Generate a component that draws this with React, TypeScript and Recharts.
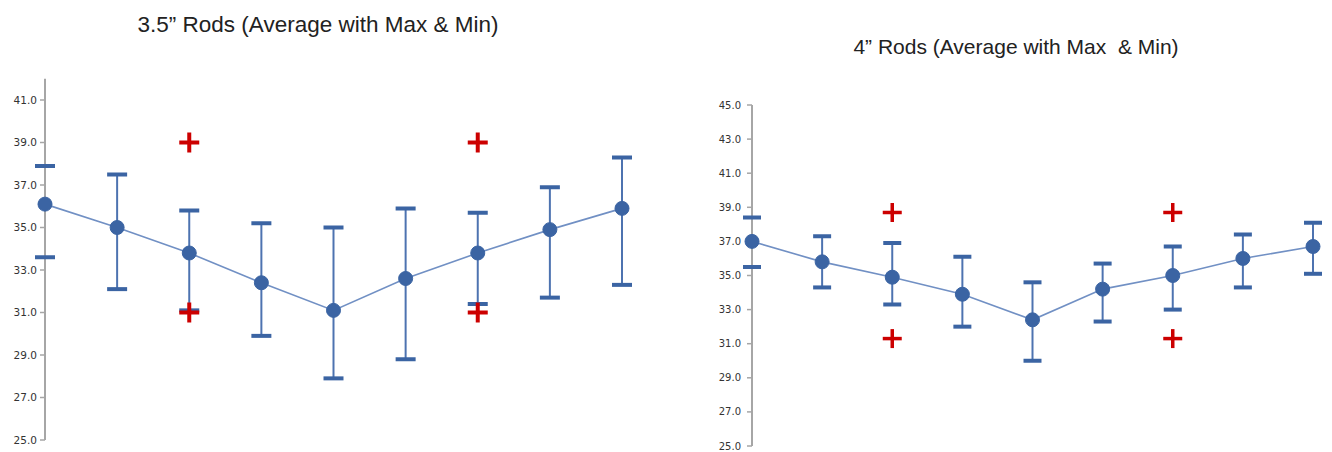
import React from 'react';
import { ComposedChart, Line, ErrorBar, Scatter, XAxis, YAxis } from 'recharts';

// sample positions along the x axis (no labels shown in the picture)
const samples = ['1', '2', '3', '4', '5', '6', '7', '8', '9'];

// 3.5" rods
const avg35 = [36.1, 35.0, 33.8, 32.4, 31.1, 32.6, 33.8, 34.9, 35.9];
const max35 = [37.9, 37.5, 35.8, 35.2, 35.0, 35.9, 35.7, 36.9, 38.3];
const min35 = [33.6, 32.1, 31.1, 29.9, 27.9, 28.8, 31.4, 31.7, 32.3];
const limitHi35 = [null, null, 39.0, null, null, null, 39.0, null, null];
const limitLo35 = [null, null, 31.0, null, null, null, 31.0, null, null];
const ticks35 = [25, 27, 29, 31, 33, 35, 37, 39, 41];

// 4" rods
const avg4 = [37.0, 35.8, 34.9, 33.9, 32.4, 34.2, 35.0, 36.0, 36.7];
const max4 = [38.4, 37.3, 36.9, 36.1, 34.6, 35.7, 36.7, 37.4, 38.1];
const min4 = [35.5, 34.3, 33.3, 32.0, 30.0, 32.3, 33.0, 34.3, 35.1];
const limitHi4 = [null, null, 38.7, null, null, null, 38.7, null, null];
const limitLo4 = [null, null, 31.3, null, null, null, 31.3, null, null];
const ticks4 = [25, 27, 29, 31, 33, 35, 37, 39, 41, 43, 45];

const BLUE = '#3b64a3';
const STEM = '#4d73b0';
const LINE = '#7190c4';
const RED = '#cc0000';

const build = (avg: number[], max: number[], min: number[], hi: (number | null)[], lo: (number | null)[]) =>
  samples.map((s, i) => ({
    sample: s,
    avg: avg[i],
    max: max[i],
    min: min[i],
    hi: hi[i],
    lo: lo[i],
    err: [avg[i] - min[i], max[i] - avg[i]],
  }));

const makeCap = (half: number, sw: number) => (props: any) => {
  const { cx, cy } = props;
  if (cx == null || cy == null || isNaN(cy)) return <g />;
  return <line x1={cx - half} x2={cx + half} y1={cy} y2={cy} stroke={BLUE} strokeWidth={sw} />;
};

const makeCross = (half: number, sw: number, key: string) => (props: any) => {
  const { cx, cy, payload } = props;
  if (!payload || payload[key] == null || cy == null || isNaN(cy)) return <g />;
  return (
    <g>
      <line x1={cx - half} x2={cx + half} y1={cy} y2={cy} stroke={RED} strokeWidth={sw} />
      <line x1={cx} x2={cx} y1={cy - half} y2={cy + half} stroke={RED} strokeWidth={sw} />
    </g>
  );
};

type RodProps = {
  data: any[];
  width: number;
  height: number;
  margin: { top: number; right: number; bottom: number; left: number };
  axisWidth: number;
  domain: [number, number];
  ticks: number[];
  fontSize: number;
  tickMargin: number;
  capHalf: number;
  crossHalf: number;
  crossWidth: number;
};

const RodChart = (p: RodProps) => (
  <ComposedChart width={p.width} height={p.height} data={p.data} margin={p.margin}>
    <XAxis dataKey="sample" type="category" scale="point" padding={{ left: 0, right: 0 }} hide />
    <YAxis
      domain={p.domain}
      ticks={p.ticks}
      allowDataOverflow
      width={p.axisWidth}
      tickFormatter={(v: number) => v.toFixed(1)}
      tick={{ fontSize: p.fontSize, fill: '#333', fontFamily: 'DejaVu Sans' }}
      tickSize={5}
      tickMargin={p.tickMargin}
      axisLine={{ stroke: '#a6a6a6', strokeWidth: 2 }}
      tickLine={{ stroke: '#a6a6a6', strokeWidth: 1.5 }}
    />
    <Scatter dataKey="max" shape={makeCap(p.capHalf, 4)} isAnimationActive={false} />
    <Scatter dataKey="min" shape={makeCap(p.capHalf, 4)} isAnimationActive={false} />
    <Line
      dataKey="avg"
      stroke={LINE}
      strokeWidth={1.6}
      dot={{ r: 7, fill: BLUE, stroke: BLUE, strokeWidth: 1 }}
      isAnimationActive={false}
    >
      <ErrorBar dataKey="err" direction="y" width={0} stroke={STEM} strokeWidth={2} />
    </Line>
    <Scatter dataKey="hi" shape={makeCross(p.crossHalf, p.crossWidth, 'hi')} isAnimationActive={false} />
    <Scatter dataKey="lo" shape={makeCross(p.crossHalf, p.crossWidth, 'lo')} isAnimationActive={false} />
  </ComposedChart>
);

const data35 = build(avg35, max35, min35, limitHi35, limitLo35);
const data4 = build(avg4, max4, min4, limitHi4, limitLo4);

const titleStyle: React.CSSProperties = {
  position: 'absolute',
  fontFamily: '"Liberation Sans", Arial, sans-serif',
  color: '#222',
  whiteSpace: 'pre',
  textAlign: 'center',
  lineHeight: 1.15,
};

export default function App() {
  return (
    <div style={{ position: 'absolute', left: 0, top: 0, width: 1332, height: 452, background: '#fff' }}>
      <div style={{ ...titleStyle, left: 0, width: 636, top: 12, fontSize: 22.5 }}>
        3.5” Rods (Average with Max &amp; Min)
      </div>
      <div style={{ ...titleStyle, left: 700, width: 632, top: 35, fontSize: 21 }}>
        {'4” Rods (Average with Max  & Min)'}
      </div>
      <div style={{ position: 'absolute', left: 0, top: 0 }}>
        <RodChart
          data={data35}
          width={660}
          height={452}
          margin={{ top: 78.75, right: 38, bottom: 12, left: 0 }}
          axisWidth={45}
          domain={[25, 42]}
          ticks={ticks35}
          fontSize={10.5}
          tickMargin={3}
          capHalf={10}
          crossHalf={10}
          crossWidth={4}
        />
      </div>
      <div style={{ position: 'absolute', left: 700, top: 0 }}>
        <RodChart
          data={data4}
          width={632}
          height={452}
          margin={{ top: 105, right: 19, bottom: 6, left: 0 }}
          axisWidth={52}
          domain={[25, 45]}
          ticks={ticks4}
          fontSize={10}
          tickMargin={6}
          capHalf={9}
          crossHalf={9.5}
          crossWidth={3.5}
        />
      </div>
    </div>
  );
}
